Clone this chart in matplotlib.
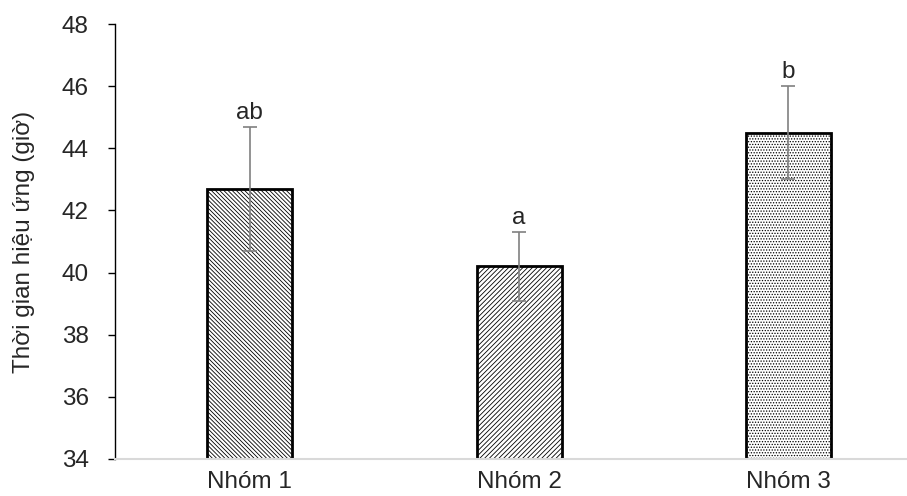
import matplotlib
matplotlib.use("Agg")
import matplotlib.pyplot as plt

categories = ["Nhóm 1", "Nhóm 2", "Nhóm 3"]
means = [42.7, 40.2, 44.5]
errors = [2.0, 1.1, 1.5]
letters = ["ab", "a", "b"]
hatches = ["\\" * 8, "/" * 7, "." * 6]
yticks = [34, 36, 38, 40, 42, 44, 46, 48]

plt.rcParams['font.family'] = ['Liberation Sans', 'DejaVu Sans']
plt.rcParams['hatch.linewidth'] = 0.6
txtc = '#262626'

fig = plt.figure(figsize=(9.07, 4.96), dpi=100)
ax = fig.add_axes([0.1268, 0.0746, 0.8732, 0.877])

x = list(range(len(categories)))
bars = ax.bar(x, means, width=0.316, bottom=0, color='white', edgecolor='black',
              linewidth=2, zorder=2)
for b, h in zip(bars, hatches):
    b.set_hatch(h)

ax.errorbar(x, means, yerr=errors, fmt='none', ecolor='#808080', elinewidth=1.2,
            capsize=5, capthick=1.2, zorder=3)

for xi, m, e, t in zip(x, means, errors, letters):
    ax.annotate(t, (xi, m + e), xytext=(0, 2), textcoords='offset points',
                ha='center', va='bottom', fontsize=17.5, color=txtc)

ax.set_ylim(34, 48)
ax.set_xlim(-0.5, 2.44)
ax.set_yticks(yticks)
ax.set_xticks(x)
ax.set_xticklabels(categories)
ax.tick_params(axis='y', labelsize=17.5, length=5, width=1, direction='out', pad=14,
               labelcolor=txtc)
ax.tick_params(axis='x', labelsize=17.5, length=0, pad=9, labelcolor=txtc)
ax.set_ylabel("Thời gian hiệu ứng (giờ)", fontsize=17.5, labelpad=19, color=txtc)

for s in ['top', 'right']:
    ax.spines[s].set_visible(False)
ax.spines['left'].set_color('black')
ax.spines['left'].set_linewidth(1)
ax.spines['bottom'].set_color('#d9d9d9')
ax.spines['bottom'].set_linewidth(1.5)

fig.savefig("out.png", dpi=100)
